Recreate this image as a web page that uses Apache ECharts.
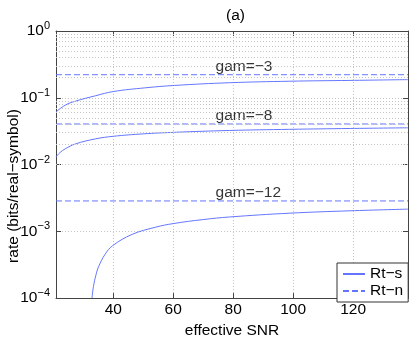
<!DOCTYPE html>
<html>
<head>
<meta charset="utf-8">
<script src="https://cdn.jsdelivr.net/npm/echarts@6/dist/echarts.min.js"></script>
<style>
  html, body { margin: 0; padding: 0; background: #fff; }
  #chart { width: 415px; height: 344px; }
</style>
</head>
<body>
<div id="chart"></div>
<script>
// effective SNR range
const xMin = 20.9
const xMax = 138.3

// Rt-s curves
const xGam3 = [20.9, 24, 27.3, 34, 40, 50.7, 60.4, 78.8, 98.9, 119, 138.3]
const rsGam3 = [0.0614, 0.0776, 0.0887, 0.107, 0.124, 0.141, 0.153, 0.168, 0.177, 0.182, 0.187]

const xGam8 = [20.9, 22.3, 24, 27.3, 34, 40, 50, 60.4, 78.8, 98.9, 119, 138.3]
const rsGam8 = [0.0130, 0.0152, 0.0172, 0.0203, 0.0242, 0.0265, 0.0288, 0.0304, 0.0324, 0.0337, 0.0347, 0.0355]

const xGam12 = [32.9, 33.4, 34.2, 35.1, 37.3, 39.8, 46.3, 54, 60.2, 70, 78.8, 98.9, 119, 138.3]
const rsGam12 = [0.0001, 0.00015, 0.00022, 0.000295, 0.000455, 0.00061, 0.0009, 0.00115, 0.00131, 0.0015, 0.00164, 0.00187, 0.00203, 0.00215]

// Rt-n levels
const rnLevels = [0.2215, 0.0405, 0.00285]
const gamLabels = ['gam=\u22123', 'gam=\u22128', 'gam=\u221212']
const labelX = 74.3

const blue = '#6476ff'
const gridGray = '#c4c4c4'
const font = "'Liberation Sans', Arial, Helvetica, sans-serif"
const fs = 15.5

// minor grid lines for the log axis (2..9 per decade)
const minorLines = []
for (let e = -4; e < 0; e++) {
  for (let m = 2; m <= 9; m++) minorLines.push({ yAxis: m * Math.pow(10, e) })
}

const zip = (xs, ys) => xs.map((x, i) => [x, ys[i]])

const solid = (xs, ys) => ({
  name: 'Rt\u2212s',
  type: 'line',
  symbol: 'none',
  smooth: 0.4,
  lineStyle: { color: blue, width: 1 },
  itemStyle: { color: blue },
  data: zip(xs, ys)
})

const dashed = v => ({
  name: 'Rt\u2212n',
  type: 'line',
  symbol: 'none',
  lineStyle: { color: blue, width: 1, type: [6, 3] },
  itemStyle: { color: blue },
  data: [[xMin, v], [xMax, v]]
})

const series = [
  solid(xGam3, rsGam3),
  solid(xGam8, rsGam8),
  solid(xGam12, rsGam12),
  dashed(rnLevels[0]),
  dashed(rnLevels[1]),
  dashed(rnLevels[2]),
  {
    name: 'labels',
    type: 'scatter',
    symbolSize: 1,
    silent: true,
    itemStyle: { color: 'rgba(0,0,0,0)' },
    label: {
      show: true,
      position: [0, -7.5],
      align: 'left',
      verticalAlign: 'middle',
      color: '#000',
      fontSize: fs,
      fontFamily: font,
      formatter: p => gamLabels[p.dataIndex]
    },
    data: rnLevels.map(v => [labelX, v])
  }
]

// minor grid drawn as mark lines on the first series
series[0].markLine = {
  silent: true,
  symbol: 'none',
  label: { show: false },
  lineStyle: { color: gridGray, width: 1, type: [1, 2] },
  animation: false,
  data: minorLines
}

const chart = echarts.init(document.getElementById('chart'))
chart.setOption({
  animation: false,
  textStyle: { fontFamily: font },
  title: {
    text: '(a)',
    left: 221,
    top: 3,
    textStyle: { fontSize: fs, fontWeight: 'normal', color: '#000', fontFamily: font }
  },
  graphic: [
    {
      type: 'text',
      x: 14,
      y: 186,
      rotation: Math.PI / 2,
      style: {
        text: 'rate (bits/real\u2212symbol)',
        fontSize: fs,
        fontFamily: font,
        fill: '#000',
        align: 'center',
        verticalAlign: 'middle'
      }
    }
  ],
  legend: {
    data: ['Rt\u2212s', 'Rt\u2212n'],
    orient: 'vertical',
    left: 337,
    top: 263,
    padding: [3, 5, 3, 5],
    itemGap: 1,
    itemWidth: 22,
    itemHeight: 15,
    backgroundColor: '#fff',
    borderColor: '#333',
    borderWidth: 1,
    itemStyle: { opacity: 0 },
    textStyle: { fontSize: fs, color: '#000', fontFamily: font }
  },
  grid: { left: 56, right: 7, top: 31, bottom: 38 },
  xAxis: [
    {
      type: 'value',
      min: xMin,
      max: xMax,
      name: 'effective SNR',
      nameLocation: 'middle',
      nameGap: 18,
      nameTextStyle: { fontSize: fs, color: '#000' },
      axisLine: { lineStyle: { color: '#444' } },
      axisTick: { inside: true, length: 5, lineStyle: { color: '#444' } },
      axisLabel: { fontSize: fs, color: '#000', margin: 4, showMinLabel: false, showMaxLabel: false },
      splitLine: { show: true, lineStyle: { color: gridGray, type: [1, 2] } }
    },
    {
      type: 'value',
      position: 'top',
      min: xMin,
      max: xMax,
      axisLine: { lineStyle: { color: '#444' } },
      axisTick: { inside: true, length: 5, lineStyle: { color: '#444' } },
      axisLabel: { show: false },
      splitLine: { show: false }
    }
  ],
  yAxis: [
    {
      type: 'log',
      logBase: 10,
      min: 1e-4,
      max: 1,
      axisLine: { show: true, lineStyle: { color: '#444' } },
      axisTick: { inside: true, length: 5, lineStyle: { color: '#444' } },
      axisLabel: {
        color: '#000',
        margin: 6,
        formatter: v => {
          const e = Math.round(Math.log10(v))
          return '{b|10}{e|' + (e < 0 ? '\u2212' + (-e) : e) + '}'
        },
        rich: {
          b: { fontSize: fs, color: '#000', fontFamily: font },
          e: { fontSize: 11, color: '#000', fontFamily: font, padding: [0, 0, 10, 0] }
        }
      },
      splitLine: { show: true, lineStyle: { color: gridGray, type: [1, 2] } }
    },
    {
      type: 'log',
      logBase: 10,
      min: 1e-4,
      max: 1,
      position: 'right',
      axisLine: { show: true, lineStyle: { color: '#444' } },
      axisTick: { inside: true, length: 5, lineStyle: { color: '#444' } },
      axisLabel: { show: false },
      splitLine: { show: false }
    }
  ],
  series: series
})
</script>
</body>
</html>
